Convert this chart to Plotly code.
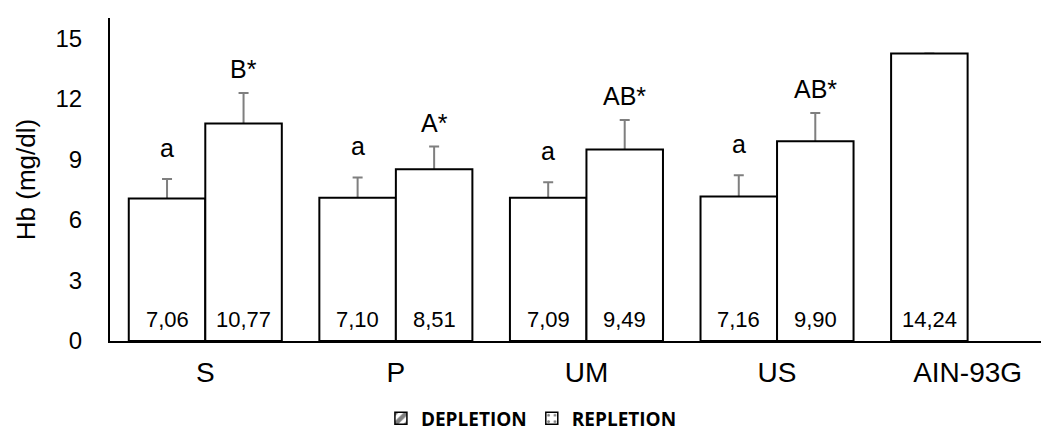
import plotly.graph_objects as go

# ---------------- data ----------------
categories = ["S", "P", "UM", "US", "AIN-93G"]
depletion = [7.06, 7.10, 7.09, 7.16, 14.24]
repletion = [10.77, 8.51, 9.49, 9.90, None]
depletion_err = [0.96, 1.00, 0.77, 1.05, None]
repletion_err = [1.52, 1.12, 1.46, 1.39, None]
depletion_letters = ["a", "a", "a", "a", ""]
repletion_letters = ["B*", "A*", "AB*", "AB*", ""]
y_ticks = [0, 3, 6, 9, 12, 15]

# ---------------- style ----------------
FONT = "Liberation Sans, Arial, sans-serif"
LEG_FONT = "Open Sans, sans-serif"
BAR_W = 0.4015  # each bar's width in category units (group width ~0.80)
ERR_COLOR = "#7f7f7f"

fig = go.Figure()

# error bars first (drawn underneath the opaque bars, so only the upper half shows)
for vals, errs, off in [(depletion, depletion_err, -BAR_W), (repletion, repletion_err, 0)]:
    fig.add_trace(go.Bar(
        x=categories, y=vals, offset=off, width=BAR_W,
        marker=dict(color="rgba(0,0,0,0)", line=dict(width=0)),
        error_y=dict(type="data", array=errs, color=ERR_COLOR, thickness=2, width=5),
        showlegend=False, hoverinfo="skip"))

common_bar = dict(
    marker=dict(color="white", line=dict(color="black", width=2)),
    width=BAR_W,
    showlegend=False,
    hoverinfo="skip",
)
fig.add_trace(go.Bar(x=categories, y=depletion, offset=-BAR_W, name="DEPLETION", **common_bar))
fig.add_trace(go.Bar(x=categories, y=repletion, offset=0, name="REPLETION", **common_bar))

# legend-only entries (icons as in the reference)
fig.add_trace(go.Bar(
    x=[None], y=[None], name="<b>DEPLETION</b>",
    marker=dict(color="white", line=dict(color="black", width=1.5),
                pattern=dict(shape="/", fgcolor="black", bgcolor="white",
                             size=10, solidity=0.55)),
    showlegend=True, hoverinfo="skip"))
fig.add_trace(go.Bar(
    x=[None], y=[None], name="<b>REPLETION</b>",
    marker=dict(color="white", line=dict(color="black", width=1.5),
                pattern=dict(shape=".", fgcolor="black", bgcolor="white",
                             size=8, solidity=0.15)),
    showlegend=True, hoverinfo="skip"))


def fmt(v):
    return f"{v:.2f}".replace(".", ",")


annotations = []
for i, cat in enumerate(categories):
    series = [
        (depletion[i], depletion_err[i], depletion_letters[i], i - BAR_W / 2, 15),
        (repletion[i], repletion_err[i], repletion_letters[i], i + BAR_W / 2, 8),
    ]
    for val, err, letter, xpos, lshift in series:
        if val is None:
            continue
        # value label at the bottom of each bar
        annotations.append(dict(
            x=xpos, y=0, xref="x", yref="y", text=fmt(val), showarrow=False,
            yanchor="bottom", yshift=7,
            font=dict(family=FONT, size=22, color="black")))
        # significance letter above the error bar
        if letter:
            annotations.append(dict(
                x=xpos, y=val + (err or 0), xref="x", yref="y", text=letter,
                showarrow=False, yanchor="bottom", yshift=lshift,
                font=dict(family=FONT, size=25, color="black")))

fig.update_layout(
    width=1049, height=430,
    margin=dict(l=102, r=0, t=10, b=89),
    paper_bgcolor="white", plot_bgcolor="white",
    barmode="overlay",
    font=dict(family=FONT, color="black"),
    annotations=annotations,
    legend=dict(orientation="h", x=0.445, xanchor="center",
                y=-0.24, yanchor="middle",
                font=dict(family=LEG_FONT, size=19, color="black"),
                itemclick=False, itemdoubleclick=False),
    xaxis=dict(type="category", categoryorder="array", categoryarray=categories,
               range=[-0.5, 4.469], showline=True, linecolor="black", linewidth=2,
               ticks="", showgrid=False, zeroline=False,
               tickfont=dict(family=FONT, size=28, color="black"),
               ticklabelstandoff=5),
    yaxis=dict(range=[0, 16], tickvals=y_ticks, showline=True, linecolor="black",
               linewidth=2, ticks="", showgrid=False, zeroline=False,
               tickfont=dict(family=FONT, size=24, color="black"),
               ticklabelstandoff=21,
               title=dict(text="Hb (mg/dl)", standoff=12,
                          font=dict(family=FONT, size=26, color="black"))),
)

fig.write_html("out.html")
